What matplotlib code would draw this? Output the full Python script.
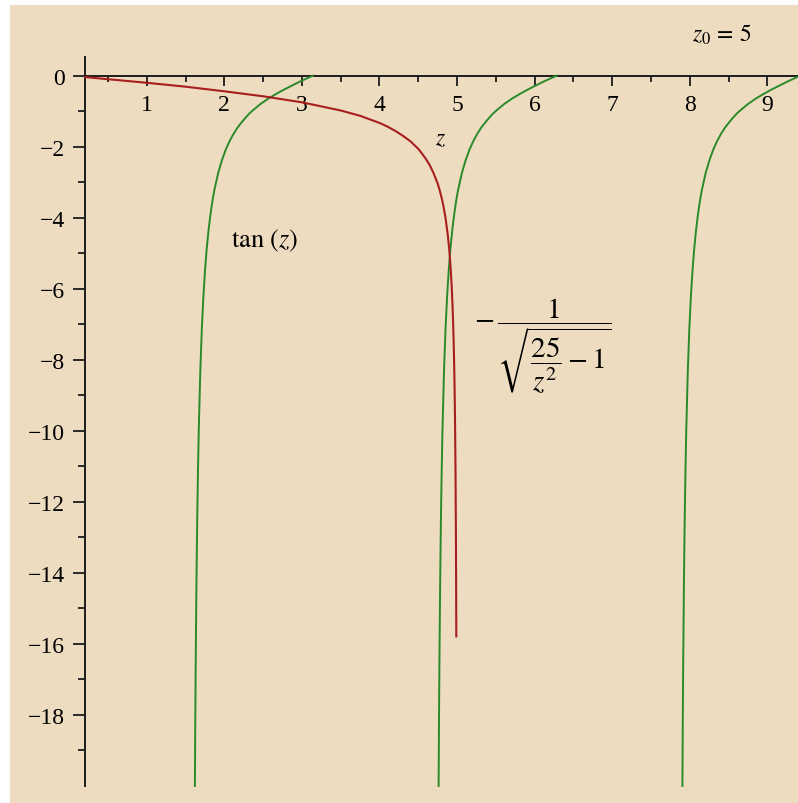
import matplotlib
matplotlib.use("Agg")
import matplotlib.pyplot as plt
from matplotlib.ticker import FixedLocator

# ---- data ----
# tan(z) branches: offset from each asymptote and value
tan_offset = [0.050, 0.055, 0.060, 0.070, 0.080, 0.090, 0.100, 0.120, 0.140,
              0.160, 0.180, 0.200, 0.225, 0.250, 0.275, 0.300, 0.350, 0.400,
              0.450, 0.500, 0.550, 0.600, 0.650, 0.700, 0.750, 0.800, 0.900,
              1.000, 1.100, 1.200, 1.300, 1.400, 1.500, 1.571]
tan_values = [-20.00, -18.16, -16.65, -14.26, -12.47, -11.08, -9.97, -8.29, -7.10,
              -6.20, -5.50, -4.93, -4.37, -3.92, -3.54, -3.23, -2.74, -2.37,
              -2.07, -1.83, -1.63, -1.46, -1.32, -1.19, -1.07, -0.97, -0.79,
              -0.64, -0.51, -0.39, -0.28, -0.17, -0.07, 0.00]
branch_starts = [1.571, 4.712, 7.854]

# -1/sqrt(25/z^2 - 1)
red_z = [0.205, 0.5, 1.0, 1.5, 2.0, 2.5, 3.0, 3.5, 3.75, 4.0, 4.1, 4.2, 4.3, 4.4,
         4.5, 4.55, 4.6, 4.65, 4.7, 4.75, 4.775, 4.8, 4.825, 4.85, 4.88, 4.9,
         4.91, 4.92, 4.93, 4.94, 4.945, 4.95, 4.955, 4.96, 4.965, 4.97, 4.975,
         4.98, 4.985, 4.988, 4.99]
red_y = [-0.04, -0.10, -0.20, -0.31, -0.44, -0.58, -0.75, -0.98, -1.13, -1.33,
         -1.43, -1.55, -1.69, -1.85, -2.06, -2.20, -2.35, -2.53, -2.76, -3.04,
         -3.22, -3.43, -3.68, -3.99, -4.48, -4.92, -5.20, -5.52, -5.91, -6.40,
         -6.69, -7.02, -7.40, -7.86, -8.41, -9.09, -9.96, -11.15, -12.88,
         -14.40, -15.79]

x_major = [1, 2, 3, 4, 5, 6, 7, 8, 9]
x_minor = [0.5, 1.5, 2.5, 3.5, 4.5, 5.5, 6.5, 7.5, 8.5]
y_major = [0, -2, -4, -6, -8, -10, -12, -14, -16, -18]
y_minor = [-1, -3, -5, -7, -9, -11, -13, -15, -17, -19]

title_text = r"$z_0\,=\,5$"
tan_label = r"$\tan\,(z)$"
red_label = r"$-\,\dfrac{1}{\sqrt{\dfrac{25}{z^2}-1}}$"
axis_label = r"$z$"

# ---- styling ----
BG = "#EDDCC0"
RED = "#A81E1E"
GREEN = "#2A8A2A"
AXC = "#1c1c1c"

plt.rcParams["font.family"] = ["Liberation Serif", "DejaVu Serif"]
plt.rcParams["mathtext.fontset"] = "stix"

fig = plt.figure(figsize=(7.98, 8.04), dpi=100, facecolor="white")
ax = fig.add_axes([10 / 798, 0, 788 / 798, 798 / 804])
ax.set_facecolor(BG)

x0 = 0.205
ax.set_xlim(-0.762, 9.394)
ax.set_ylim(-20.48, 1.99)

for s in branch_starts:
    zz = [s + d for d in tan_offset]
    ax.plot(zz, tan_values, color=GREEN, lw=1.4)
ax.plot(red_z, red_y, color=RED, lw=1.5)

for side in ["top", "right"]:
    ax.spines[side].set_visible(False)
ax.spines["left"].set_position(("data", x0))
ax.spines["bottom"].set_position(("data", 0))
ax.spines["left"].set_bounds(-20, 0.52)
ax.spines["bottom"].set_bounds(x0, 9.394)
for side in ["left", "bottom"]:
    ax.spines[side].set_color(AXC)
    ax.spines[side].set_linewidth(1.4)
    ax.spines[side].set_zorder(1)

ax.xaxis.set_major_locator(FixedLocator(x_major))
ax.xaxis.set_minor_locator(FixedLocator(x_minor))
ax.yaxis.set_major_locator(FixedLocator(y_major))
ax.yaxis.set_minor_locator(FixedLocator(y_minor))
ax.set_xticklabels([str(v) for v in x_major])
ax.set_yticklabels([("\u2212" + str(-v)) if v < 0 else str(v) for v in y_major])
ax.tick_params(axis="x", which="major", direction="out", length=7.5, width=1.3,
               color=AXC, labelsize=17, pad=5.5)
ax.tick_params(axis="x", which="minor", direction="out", length=4.5, width=1.3, color=AXC)
ax.tick_params(axis="y", which="major", direction="out", length=8.5, width=1.3,
               color=AXC, labelsize=17, pad=6)
ax.tick_params(axis="y", which="minor", direction="out", length=5, width=1.3, color=AXC)

ax.text(8.415, 0.977, title_text, fontsize=17, ha="center", va="baseline")
ax.text(2.515, -4.62, tan_label, fontsize=19, ha="center", va="center")
ax.text(4.79, -1.78, axis_label, fontsize=17, ha="center", va="center")
ax.text(6.113, -7.58, red_label, fontsize=21, ha="center", va="center")

fig.savefig("out.png", dpi=100, facecolor="white")
